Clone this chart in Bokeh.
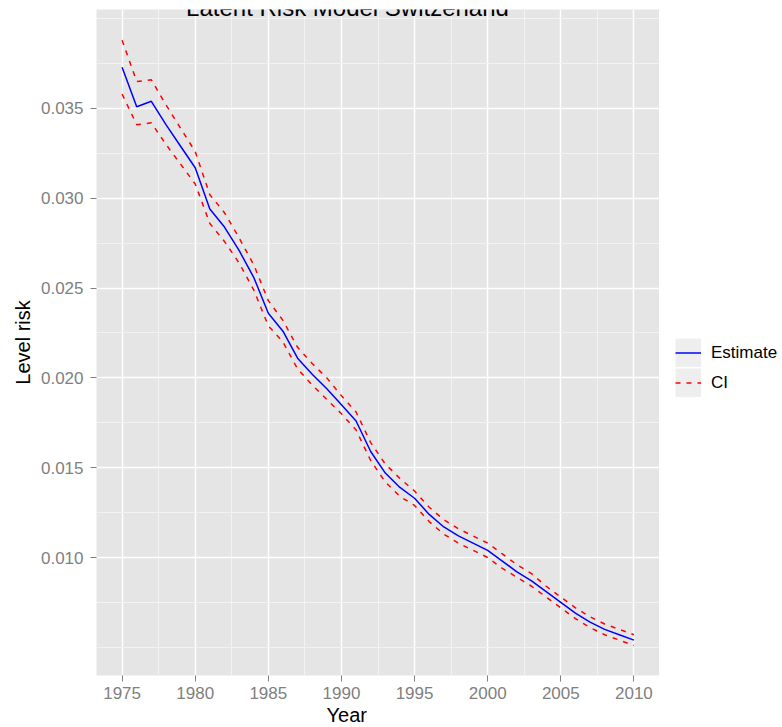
import math
from bokeh.plotting import figure
from bokeh.layouts import row
from bokeh.models import Range1d, FixedTicker, PrintfTickFormatter, Legend, LegendItem, Label, Title
from bokeh.embed import file_html
from bokeh.resources import INLINE

# ---- data ----
years = list(range(1975, 2011))
estimate = [0.0373, 0.0351, 0.0354, 0.0341, 0.0329, 0.0317, 0.0294, 0.0284, 0.0271, 0.0256,
            0.0236, 0.0226, 0.0211, 0.0202, 0.0194, 0.0185, 0.0176, 0.0159, 0.0147, 0.0139,
            0.0133, 0.0124, 0.0117, 0.0112, 0.0108, 0.0104, 0.0098, 0.0092, 0.0087, 0.0081,
            0.0075, 0.0069, 0.0064, 0.0060, 0.0057, 0.0054]
ci_upper = [0.0388, 0.0365, 0.0366, 0.0352, 0.0339, 0.0326, 0.0302, 0.0292, 0.0278, 0.0263,
            0.0243, 0.0232, 0.0217, 0.0208, 0.0200, 0.0190, 0.0181, 0.0164, 0.0152, 0.0144,
            0.0137, 0.0128, 0.0121, 0.0116, 0.0112, 0.0108, 0.0102, 0.0096, 0.0091, 0.0084,
            0.0078, 0.0072, 0.0067, 0.0063, 0.0060, 0.0057]
ci_lower = [0.0358, 0.0341, 0.0342, 0.0330, 0.0319, 0.0308, 0.0286, 0.0276, 0.0264, 0.0249,
            0.0229, 0.0220, 0.0205, 0.0196, 0.0188, 0.0180, 0.0171, 0.0154, 0.0142, 0.0134,
            0.0129, 0.0120, 0.0113, 0.0108, 0.0104, 0.0100, 0.0094, 0.0089, 0.0084, 0.0078,
            0.0072, 0.0066, 0.0061, 0.0057, 0.0054, 0.0051]
x_ticks = [1975, 1980, 1985, 1990, 1995, 2000, 2005, 2010]
y_ticks = [0.010, 0.015, 0.020, 0.025, 0.030, 0.035]
series_names = ["Estimate", "CI"]
title_text = "Latent Risk Model Switzerland"
x_title = "Year"
y_title = "Level risk"

FONT = "Liberation Sans"
GREY = "#7F7F7F"
EST_STYLE = dict(line_color="blue", line_width=1.5)
CI_STYLE = dict(line_color="red", line_width=1.5, line_dash="5 6")
KEY_STYLE = dict(line_color="#EEEEEE", line_width=29)

p = figure(width=659, height=727, output_backend="svg", toolbar_location=None,
           x_range=Range1d(1973.25, 2011.75), y_range=Range1d(0.00343, 0.040512),
           min_border_left=96, min_border_right=0, min_border_top=9, min_border_bottom=52)
p.background_fill_color = "#E5E5E5"
p.border_fill_color = "white"
p.outline_line_color = None

x_minor = [x_ticks[0] - 2.5] + [t + 2.5 for t in x_ticks]
y_minor = [y_ticks[0] - 0.005, y_ticks[0] - 0.0025] + [t + 0.0025 for t in y_ticks] + [y_ticks[-1] + 0.005]
p.xaxis.ticker = FixedTicker(ticks=x_ticks, minor_ticks=x_minor)
p.yaxis.ticker = FixedTicker(ticks=y_ticks, minor_ticks=y_minor)
p.xaxis.formatter = PrintfTickFormatter(format="%d")
p.yaxis.formatter = PrintfTickFormatter(format="%.3f")

p.grid.grid_line_color = "white"
p.grid.grid_line_width = 1.5
p.grid.minor_grid_line_color = "#F2F2F2"
p.grid.minor_grid_line_width = 1

for ax in (p.xaxis[0], p.yaxis[0]):
    ax.axis_line_color = None
    ax.major_tick_line_color = GREY
    ax.major_tick_out = 6
    ax.major_tick_in = 0
    ax.minor_tick_line_color = None
    ax.major_label_text_color = GREY
    ax.major_label_text_font = FONT
    ax.major_label_text_font_size = "17px"
p.xaxis.major_label_standoff = 5
p.yaxis.major_label_standoff = 7
p.yaxis.axis_label = y_title
p.yaxis.axis_label_text_font = FONT
p.yaxis.axis_label_text_font_size = "20px"
p.yaxis.axis_label_text_font_style = "normal"
p.yaxis.axis_label_text_color = "black"
p.yaxis.axis_label_standoff = 4

p.line(years, estimate, **EST_STYLE)
p.line(years, ci_upper, **CI_STYLE)
p.line(years, ci_lower, **CI_STYLE)

p.add_layout(Label(x=251, y=668, x_units="screen", y_units="screen", text=title_text,
                   text_align="center", text_baseline="alphabetic", text_font=FONT,
                   text_font_size="24px", text_color="black"))
p.add_layout(Title(text=x_title, align="left", offset=230, standoff=0, text_font=FONT,
                   text_font_size="20px", text_font_style="normal", text_color="black"), "below")

# ---- legend panel (separate small figure to the right) ----
nan = float("nan")
lf = figure(width=123, height=727, output_backend="svg", toolbar_location=None,
            x_range=Range1d(0, 1), y_range=Range1d(0, 1),
            min_border=0, min_border_left=0, min_border_right=0, min_border_top=0, min_border_bottom=0)
lf.axis.visible = False
lf.grid.visible = False
lf.outline_line_color = None
lf.background_fill_color = "white"
lf.border_fill_color = "white"
key_r = lf.line([nan], [nan], **KEY_STYLE)
est_k = lf.line([nan], [nan], **EST_STYLE)
ci_k = lf.line([nan], [nan], **CI_STYLE)
leg = Legend(items=[LegendItem(label=series_names[0], renderers=[key_r, est_k]),
                    LegendItem(label=series_names[1], renderers=[key_r, ci_k])],
             location=(16, 278), glyph_width=26, glyph_height=29, spacing=1, padding=0, margin=0,
             border_line_color=None, background_fill_alpha=0, label_standoff=10,
             label_text_font=FONT, label_text_font_size="17px", label_text_color="black",
             label_height=29)
lf.add_layout(leg)

layout = row(p, lf, spacing=0)
layout.styles = {"margin": "0px"}

open("out.html", "w").write(file_html(layout, INLINE))
